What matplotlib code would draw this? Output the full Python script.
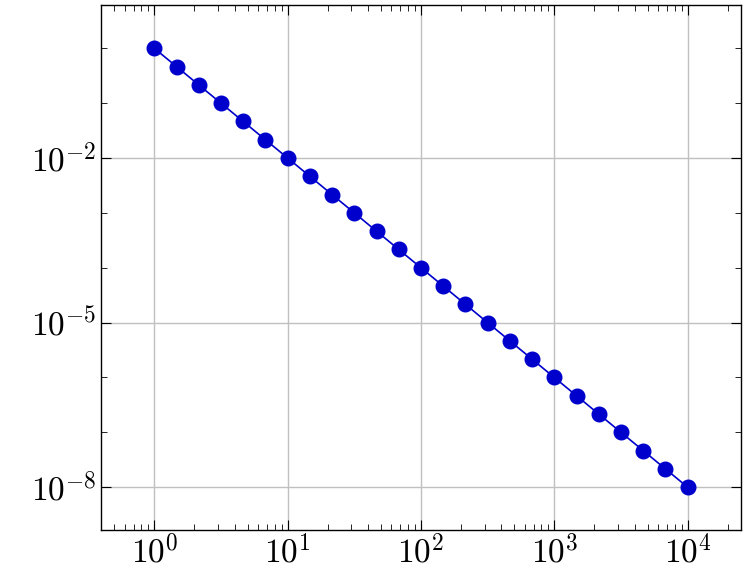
import matplotlib
matplotlib.use("Agg")
import matplotlib.pyplot as plt
from matplotlib.ticker import FixedLocator, LogLocator, NullFormatter

plt.rcParams['mathtext.fontset'] = 'cm'
plt.rcParams['font.family'] = 'DejaVu Serif'

x_vals = [1.0, 1.468, 2.154, 3.162, 4.642, 6.813, 10.0, 14.68, 21.54, 31.62, 46.42, 68.13,
          100.0, 146.8, 215.4, 316.2, 464.2, 681.3, 1000.0, 1468.0, 2154.0, 3162.0, 4642.0, 6813.0, 10000.0]
y_vals = [1.0, 0.4642, 0.2154, 0.1, 0.04642, 0.02154, 0.01, 4.642e-3, 2.154e-3, 1e-3, 4.642e-4, 2.154e-4,
          1e-4, 4.642e-5, 2.154e-5, 1e-5, 4.642e-6, 2.154e-6, 1e-6, 4.642e-7, 2.154e-7, 1e-7, 4.642e-8, 2.154e-8, 1e-8]
x_ticks = [1, 10, 100, 1000, 10000]
x_labels = [r'$10^{0}$', r'$10^{1}$', r'$10^{2}$', r'$10^{3}$', r'$10^{4}$']
y_ticks = [1e-8, 1e-5, 1e-2]
y_labels = [r'$10^{-8}$', r'$10^{-5}$', r'$10^{-2}$']

fig = plt.figure(figsize=(7.47, 5.85), dpi=100)
ax = fig.add_axes([101/747, 55/585, 640/747, 525/585])
ax.loglog(x_vals, y_vals, color='#0000cc', lw=1.2, marker='o', ms=10.5,
          markerfacecolor='#0000cc', markeredgecolor='#0000cc', zorder=3)
ax.set_xlim(10**-0.4, 10**4.4)
ax.set_ylim(10**-8.78, 10**0.79)
ax.xaxis.set_major_locator(FixedLocator(x_ticks))
ax.set_xticklabels(x_labels)
ax.xaxis.set_minor_locator(LogLocator(base=10, subs=range(2, 10), numticks=100))
ax.xaxis.set_minor_formatter(NullFormatter())
ax.yaxis.set_major_locator(FixedLocator(y_ticks))
ax.set_yticklabels(y_labels)
ax.yaxis.set_minor_locator(FixedLocator([10.0**k for k in range(-9, 1)]))
ax.yaxis.set_minor_formatter(NullFormatter())
ax.grid(True, which='major', color='#c0c0c0', lw=1)
ax.set_axisbelow(True)
ax.tick_params(which='both', direction='in', top=True, right=True, labelsize=24)
ax.tick_params(which='major', length=7)
ax.tick_params(which='minor', length=4)
for s in ax.spines.values():
    s.set_linewidth(1)
fig.savefig('out.png', dpi=100)
